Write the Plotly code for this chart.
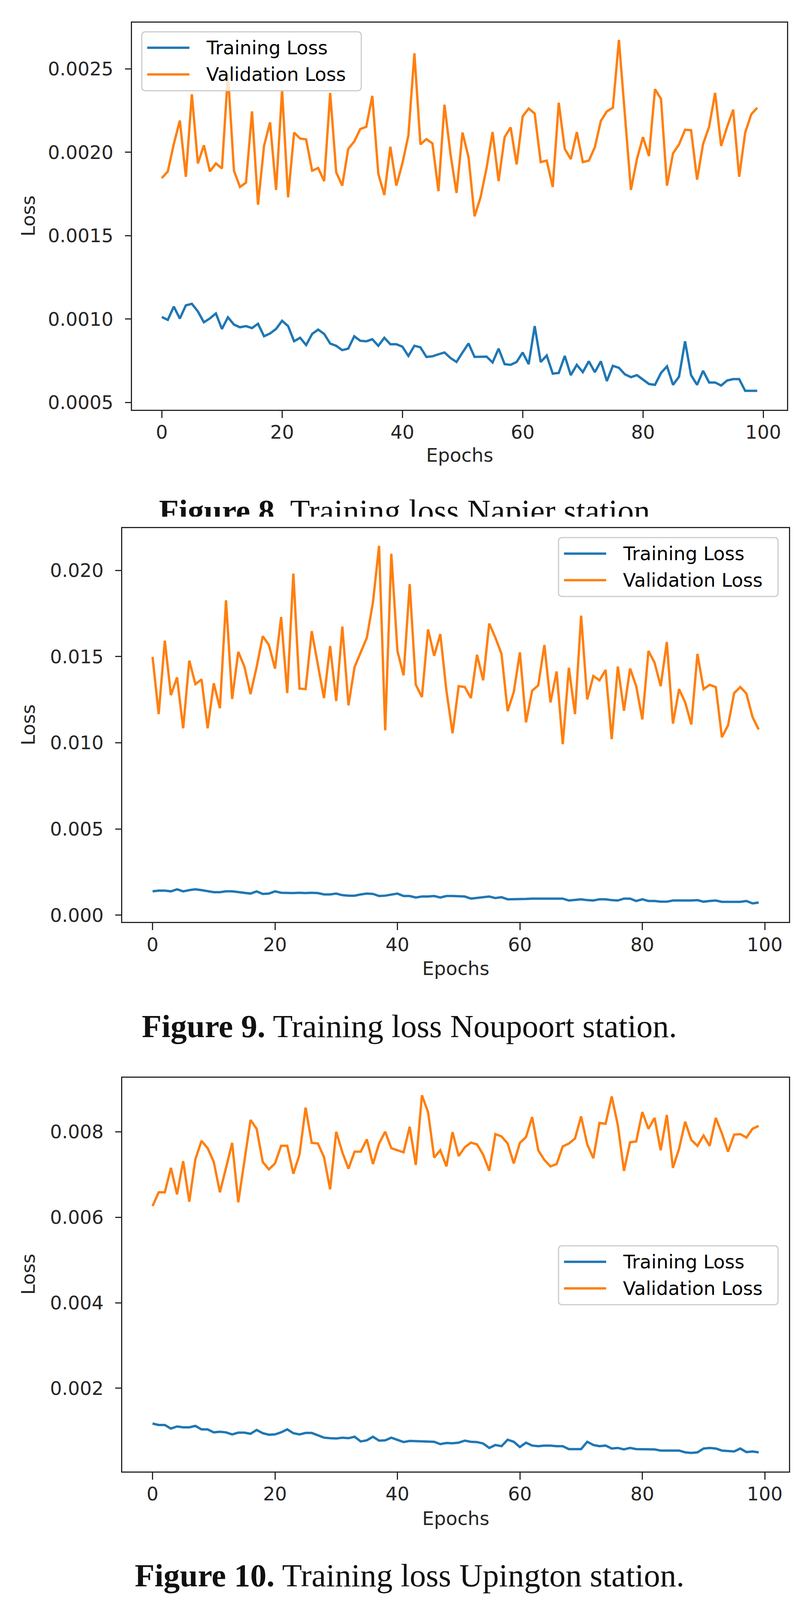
import plotly.graph_objects as go

# - - - - - - - - - - - - - - - - - - - - - - - - - - - - - - - - - - - - - - DATOS - #
# Perdidas por epoca leidas de las tres graficas (Napier, Noupoort, Upington)

epocas = list(range(100))

napier_train = [
    0.001013, 0.000995, 0.001075, 0.001003, 0.001082, 0.001092, 0.001046, 0.000981, 0.001004, 0.001034,
    0.000941, 0.001011, 0.000967, 0.000951, 0.000958, 0.000946, 0.000972, 0.000897, 0.000914, 0.000941,
    0.000990, 0.000958, 0.000867, 0.000888, 0.000844, 0.000911, 0.000937, 0.000911, 0.000853, 0.000840,
    0.000814, 0.000823, 0.000897, 0.000870, 0.000867, 0.000879, 0.000840, 0.000888, 0.000849, 0.000849,
    0.000835, 0.000779, 0.000840, 0.000831, 0.000773, 0.000777, 0.000789, 0.000800, 0.000767, 0.000743,
    0.000800, 0.000854, 0.000773, 0.000773, 0.000775, 0.000740, 0.000823, 0.000730, 0.000726, 0.000743,
    0.000800, 0.000730, 0.000958, 0.000743, 0.000782, 0.000673, 0.000677, 0.000779, 0.000664, 0.000726,
    0.000682, 0.000747, 0.000682, 0.000747, 0.000629, 0.000720, 0.000708, 0.000669, 0.000652, 0.000664,
    0.000637, 0.000611, 0.000606, 0.000677, 0.000717, 0.000606, 0.000655, 0.000867, 0.000664, 0.000606,
    0.000690, 0.000620, 0.000620, 0.000602, 0.000632, 0.000640, 0.000640, 0.000570, 0.000570, 0.000570,
]
napier_val = [
    0.001845, 0.001885, 0.002050, 0.002190, 0.001853, 0.002347, 0.001933, 0.002042, 0.001885, 0.001933,
    0.001903, 0.002470, 0.001889, 0.001792, 0.001818, 0.002245, 0.001686, 0.002038, 0.002179, 0.001774,
    0.002373, 0.001730, 0.002118, 0.002082, 0.002077, 0.001889, 0.001906, 0.001827, 0.002356, 0.001880,
    0.001800, 0.002020, 0.002065, 0.002139, 0.002153, 0.002338, 0.001871, 0.001744, 0.002033, 0.001800,
    0.001933, 0.002100, 0.002593, 0.002047, 0.002079, 0.002053, 0.001767, 0.002285, 0.001990, 0.001756,
    0.002118, 0.001970, 0.001616, 0.001730, 0.001906, 0.002121, 0.001827, 0.002091, 0.002149, 0.001927,
    0.002215, 0.002262, 0.002232, 0.001941, 0.001950, 0.001792, 0.002297, 0.002020, 0.001959, 0.002121,
    0.001941, 0.001950, 0.002030, 0.002188, 0.002245, 0.002267, 0.002673, 0.002223, 0.001774, 0.001959,
    0.002091, 0.001977, 0.002378, 0.002320, 0.001800, 0.001994, 0.002047, 0.002135, 0.002132, 0.001836,
    0.002050, 0.002153, 0.002356, 0.002038, 0.002153, 0.002255, 0.001853, 0.002118, 0.002227, 0.002267,
]

noupoort_train = [
    0.00138, 0.00142, 0.00142, 0.00138, 0.00150, 0.00138, 0.00145, 0.00150, 0.00145, 0.00138,
    0.00133, 0.00133, 0.00138, 0.00138, 0.00133, 0.00128, 0.00125, 0.00138, 0.00123, 0.00125,
    0.00138, 0.00130, 0.00128, 0.00128, 0.00130, 0.00128, 0.00130, 0.00128, 0.00120, 0.00120,
    0.00125, 0.00116, 0.00113, 0.00113, 0.00120, 0.00125, 0.00123, 0.00111, 0.00113, 0.00120,
    0.00125, 0.00111, 0.00111, 0.00102, 0.00108, 0.00108, 0.00111, 0.00102, 0.00111, 0.00111,
    0.00111, 0.00108, 0.00096, 0.00099, 0.00102, 0.00108, 0.00099, 0.00104, 0.00092, 0.00092,
    0.00092, 0.00094, 0.00096, 0.00096, 0.00096, 0.00096, 0.00096, 0.00096, 0.00085, 0.00087,
    0.00092, 0.00087, 0.00085, 0.00092, 0.00092, 0.00087, 0.00085, 0.00096, 0.00096, 0.00082,
    0.00092, 0.00082, 0.00082, 0.00078, 0.00078, 0.00085, 0.00085, 0.00082, 0.00085, 0.00087,
    0.00078, 0.00082, 0.00085, 0.00077, 0.00078, 0.00077, 0.00077, 0.00082, 0.00068, 0.00073,
]
noupoort_val = [
    0.01498, 0.01166, 0.01592, 0.01276, 0.01379, 0.01084, 0.01476, 0.01340, 0.01367, 0.01084,
    0.01345, 0.01200, 0.01826, 0.01254, 0.01527, 0.01442, 0.01282, 0.01439, 0.01618, 0.01567,
    0.01430, 0.01729, 0.01288, 0.01981, 0.01314, 0.01311, 0.01647, 0.01456, 0.01259, 0.01561,
    0.01242, 0.01674, 0.01217, 0.01439, 0.01521, 0.01609, 0.01814, 0.02142, 0.01072, 0.02096,
    0.01532, 0.01391, 0.01920, 0.01336, 0.01265, 0.01657, 0.01504, 0.01630, 0.01302, 0.01055,
    0.01328, 0.01323, 0.01259, 0.01510, 0.01362, 0.01691, 0.01609, 0.01515, 0.01183, 0.01294,
    0.01524, 0.01118, 0.01302, 0.01333, 0.01567, 0.01234, 0.01413, 0.00992, 0.01435, 0.01166,
    0.01737, 0.01251, 0.01387, 0.01362, 0.01422, 0.01021, 0.01442, 0.01186, 0.01430, 0.01328,
    0.01135, 0.01532, 0.01464, 0.01328, 0.01584, 0.01111, 0.01311, 0.01234, 0.01106, 0.01515,
    0.01311, 0.01336, 0.01323, 0.01032, 0.01101, 0.01288, 0.01323, 0.01285, 0.01149, 0.01077,
]

upington_train = [
    0.001175, 0.001141, 0.001141, 0.001058, 0.001107, 0.001086, 0.001086, 0.001120, 0.001038, 0.001038,
    0.000969, 0.000983, 0.000969, 0.000921, 0.000962, 0.000962, 0.000935, 0.001024, 0.000949, 0.000914,
    0.000921, 0.000969, 0.001038, 0.000949, 0.000921, 0.000955, 0.000955, 0.000901, 0.000845, 0.000832,
    0.000825, 0.000845, 0.000832, 0.000866, 0.000756, 0.000783, 0.000866, 0.000776, 0.000783, 0.000845,
    0.000797, 0.000742, 0.000769, 0.000763, 0.000749, 0.000749, 0.000749, 0.000694, 0.000721, 0.000715,
    0.000728, 0.000776, 0.000749, 0.000742, 0.000708, 0.000605, 0.000673, 0.000646, 0.000797, 0.000749,
    0.000625, 0.000728, 0.000660, 0.000646, 0.000660, 0.000660, 0.000646, 0.000646, 0.000577, 0.000577,
    0.000577, 0.000749, 0.000673, 0.000646, 0.000660, 0.000591, 0.000605, 0.000570, 0.000605, 0.000577,
    0.000577, 0.000577, 0.000570, 0.000543, 0.000543, 0.000549, 0.000543, 0.000502, 0.000488, 0.000502,
    0.000591, 0.000605, 0.000591, 0.000543, 0.000536, 0.000522, 0.000591, 0.000508, 0.000522, 0.000502,
]
upington_val = [
    0.006261, 0.006584, 0.006584, 0.007155, 0.006536, 0.007313, 0.006364, 0.007361, 0.007787, 0.007615,
    0.007292, 0.006584, 0.007155, 0.007739, 0.006350, 0.007313, 0.008275, 0.008069, 0.007292, 0.007120,
    0.007258, 0.007670, 0.007670, 0.007017, 0.007464, 0.008564, 0.007739, 0.007725, 0.007409, 0.006653,
    0.008000, 0.007519, 0.007134, 0.007533, 0.007533, 0.007821, 0.007244, 0.007725, 0.008000, 0.007615,
    0.007567, 0.007519, 0.008117, 0.007223, 0.008852, 0.008460, 0.007395, 0.007567, 0.007189, 0.007990,
    0.007430, 0.007636, 0.007746, 0.007704, 0.007464, 0.007086, 0.007945, 0.007890, 0.007725, 0.007258,
    0.007739, 0.007876, 0.008344, 0.007567, 0.007340, 0.007189, 0.007244, 0.007656, 0.007725, 0.007842,
    0.008357, 0.007704, 0.007381, 0.008206, 0.008186, 0.008825, 0.008151, 0.007086, 0.007753, 0.007773,
    0.008460, 0.008069, 0.008323, 0.007567, 0.008392, 0.007155, 0.007601, 0.008234, 0.007808, 0.007670,
    0.007911, 0.007670, 0.008323, 0.007959, 0.007533, 0.007931, 0.007945, 0.007863, 0.008069, 0.008137,
]

etiquetas_series = ['Training Loss', 'Validation Loss']
etiquetas_ejes = {'x': 'Epochs', 'y': 'Loss'}
leyendas = [
    ('Figure 8.', 'Training loss Napier station.'),
    ('Figure 9.', 'Training loss Noupoort station.'),
    ('Figure 10.', 'Training loss Upington station.'),
]

# - - - - - - - - - - - - - - - - - - - - - - - - - - - - - - - - - - - - - - FORMATO - #
# Las posiciones se miden sobre la imagen original (2079 x 4503); la ventana del
# navegador solo muestra 4096 px de alto, asi que la figura se comprime en vertical.
W, H = 2079, 4503
ALTO_VENTANA = 4096
colores = ['#1f77b4', '#ff7f0e']
negro = '#262626'
fuente = 'DejaVu Sans'
fuente_pie = 'Liberation Serif'
tam = 48

# caja de cada grafica en pixeles (izq, der, arriba, abajo), rango y ticks del eje y
paneles = [
    dict(caja=(330, 2007, 55.5, 1147), yrango=[0.000457, 0.002776], y0=0.0005, dy=0.0005, fmt='.4f',
         leyenda=(355, 81), titulo_x=1275, pie=None),
    dict(caja=(305, 2012, 1481.5, 2592.5), yrango=[-0.0004, 0.02244], y0=0.0, dy=0.005, fmt='.3f',
         leyenda=(1422, 1508), titulo_x=2723, pie=2886),
    dict(caja=(305, 2012, 3031.5, 4142.5), yrango=[0.000055, 0.009265], y0=0.0, dy=0.002, fmt='.3f',
         leyenda=(1422, 3506), titulo_x=4275, pie=4436),
]
series = [
    (napier_train, napier_val),
    (noupoort_train, noupoort_val),
    (upington_train, upington_val),
]


def px(x, y):
    # pixeles de la imagen original (desde arriba a la izquierda) a coordenadas de papel
    return x / W, 1 - y / H


fig = go.Figure()
anotaciones = []
formas = []

for i, (panel, (train, val)) in enumerate(zip(paneles, series)):
    n = '' if i == 0 else str(i + 1)
    izq, der, arr, aba = panel['caja']

    # Trazos de perdida de entrenamiento y validacion
    for valores, etiqueta, color in zip((train, val), etiquetas_series, colores):
        fig.add_trace(go.Scatter(x=epocas, y=valores, mode='lines', name=etiqueta,
                                 line=dict(color=color, width=6), showlegend=False,
                                 xaxis='x' + n, yaxis='y' + n))

    eje_x = dict(domain=[izq / W, der / W], range=[-4.95, 103.95], anchor='y' + n,
                 tick0=0, dtick=20, ticks='outside', ticklen=18, tickwidth=3, tickcolor=negro,
                 showline=True, linecolor=negro, linewidth=3, mirror=True,
                 showgrid=False, zeroline=False, ticklabelstandoff=-4,
                 tickfont=dict(family=fuente, size=tam, color=negro))
    eje_y = dict(domain=[1 - aba / H, 1 - arr / H], range=panel['yrango'], anchor='x' + n,
                 tick0=panel['y0'], dtick=panel['dy'], tickformat=panel['fmt'],
                 ticks='outside', ticklen=15, tickwidth=3, tickcolor=negro,
                 showline=True, linecolor=negro, linewidth=3, mirror=True,
                 showgrid=False, zeroline=False, ticklabelstandoff=20,
                 tickfont=dict(family=fuente, size=tam, color=negro))
    fig.update_layout({'xaxis' + n: eje_x, 'yaxis' + n: eje_y})

    # Leyenda estilo matplotlib: marco redondeado, muestra de linea y texto
    lx, ly = panel['leyenda']
    ancho, alto, r = 562, 166, 10
    rx, ry = r / W, r / H
    x0, y1 = px(lx, ly)
    x1, y0 = px(lx + ancho, ly + alto)
    camino = (f'M{x0 + rx},{y1} L{x1 - rx},{y1} Q{x1},{y1} {x1},{y1 - ry} '
              f'L{x1},{y0 + ry} Q{x1},{y0} {x1 - rx},{y0} L{x0 + rx},{y0} '
              f'Q{x0},{y0} {x0},{y0 + ry} L{x0},{y1 - ry} Q{x0},{y1} {x0 + rx},{y1} Z')
    formas.append(dict(type='path', path=camino, xref='paper', yref='paper', layer='above',
                       fillcolor='rgba(255,255,255,0.8)', line=dict(color='#cccccc', width=3)))
    for k, (etiqueta, color) in enumerate(zip(etiquetas_series, colores)):
        fila = ly + 45 + 75 * k
        a0, b0 = px(lx + 14, fila)
        a1, _ = px(lx + 122, fila)
        formas.append(dict(type='line', x0=a0, x1=a1, y0=b0, y1=b0, xref='paper', yref='paper',
                           layer='above', line=dict(color=color, width=6)))
        tx, ty = px(lx + 163, fila)
        anotaciones.append(dict(text=etiqueta, x=tx, y=ty, xref='paper', yref='paper',
                                xanchor='left', yanchor='middle', showarrow=False,
                                font=dict(family=fuente, size=tam, color='#000000')))

    # Titulos de ejes
    anotaciones.append(dict(text=etiquetas_ejes['x'], x=(izq + der) / 2 / W, y=1 - panel['titulo_x'] / H,
                            xref='paper', yref='paper', xanchor='center', yanchor='middle',
                            showarrow=False, font=dict(family=fuente, size=tam, color=negro)))
    anotaciones.append(dict(text=etiquetas_ejes['y'], x=64 / W, y=1 - (arr + aba) / 2 / H,
                            xref='paper', yref='paper', xanchor='center', yanchor='middle',
                            showarrow=False, textangle=-90,
                            font=dict(family=fuente, size=tam, color=negro)))

    # Pie de figura
    if panel['pie'] is not None:
        negrita, resto = leyendas[i]
        anotaciones.append(dict(text='<b>' + negrita + '</b> ' + resto, x=1040 / W,
                                y=1 - panel['pie'] / H, xref='paper', yref='paper',
                                xanchor='center', yanchor='middle', showarrow=False,
                                font=dict(family=fuente_pie, size=83, color='#111111')))

# Pie de la figura 8: queda recortado por la grafica siguiente
negrita, resto = leyendas[0]
fig.add_trace(go.Scatter(x=[1038 / W], y=[0.1], mode='text', text=['<b>' + negrita + '</b> ' + resto],
                         textposition='middle center', cliponaxis=True, showlegend=False,
                         textfont=dict(family=fuente_pie, size=83, color='#111111'),
                         xaxis='x4', yaxis='y4', hoverinfo='skip'))
fig.update_layout(xaxis4=dict(domain=[0, 1], range=[0, 1], visible=False, anchor='y4'),
                  yaxis4=dict(domain=[1 - 1449 / H, 1 - 1370 / H], range=[0, 1], visible=False,
                              anchor='x4'))

fig.update_layout(width=W, height=ALTO_VENTANA, margin=dict(l=0, r=0, t=0, b=0),
                  paper_bgcolor='white', plot_bgcolor='white', showlegend=False,
                  annotations=anotaciones, shapes=formas, hovermode=False)

fig.write_html("out.html")
